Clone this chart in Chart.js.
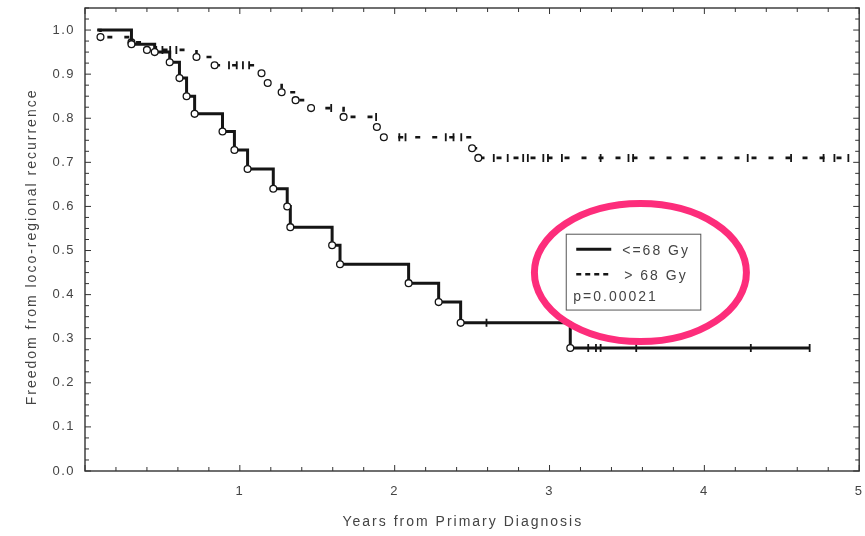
<!DOCTYPE html>
<html>
<head>
<meta charset="utf-8">
<title>Freedom from loco-regional recurrence</title>
<script src="https://cdn.jsdelivr.net/npm/chart.js@4.4.1/dist/chart.umd.min.js"></script>
<style>
  html, body { margin: 0; padding: 0; background: #fff; }
  #wrap { width: 865px; height: 536px; position: relative; }
</style>
</head>
<body>
<div id="wrap"><canvas id="km"></canvas></div>
<script>
// Kaplan–Meier curves: freedom from loco-regional recurrence by dose group

const groupLabels = ['<=68 Gy', '> 68 Gy'];
const pValueText = 'p=0.00021';
const xTitle = 'Years from Primary Diagnosis';
const yTitle = 'Freedom from loco-regional recurrence';
const xTickValues = [1, 2, 3, 4, 5];
const yTickValues = [0, 0.1, 0.2, 0.3, 0.4, 0.5, 0.6, 0.7, 0.8, 0.9, 1.0];

// <=68 Gy: first follow-up time, event times (years), survival after each event, censored times
const lowStart = 0.08;
const lowEventTimes = [0.30, 0.45, 0.547, 0.61, 0.656, 0.708, 0.888, 0.965, 1.05, 1.216, 1.306, 1.326, 1.596, 1.647, 2.09, 2.284, 2.426, 3.134];
const lowEventSurv  = [0.968, 0.950, 0.927, 0.891, 0.850, 0.810, 0.770, 0.728, 0.685, 0.640, 0.600, 0.553, 0.512, 0.469, 0.426, 0.383, 0.336, 0.279];
const lowCensorTimes = [2.593, 3.25, 3.30, 3.33, 3.56, 4.30, 4.68];

// > 68 Gy
const highStart = 0.08;
const highEventTimes = [0.10, 0.30, 0.40, 0.72, 0.837, 1.14, 1.18, 1.27, 1.36, 1.46, 1.67, 1.885, 1.93, 2.50, 2.54];
const highEventSurv  = [0.984, 0.972, 0.955, 0.939, 0.920, 0.902, 0.880, 0.859, 0.841, 0.823, 0.803, 0.780, 0.757, 0.732, 0.710];
const highCensorTimes = [0.46, 0.50, 0.55, 0.59, 0.93, 0.98, 1.02, 1.06, 1.59, 1.88, 2.03, 2.07, 2.33, 2.38, 2.43,
                         2.64, 2.73, 2.83, 2.86, 2.96, 2.99, 3.08, 3.33, 3.51, 3.54, 4.28, 4.56, 4.77, 4.84, 4.93];

// Merge events and censorings into one step curve; a censored point sits at the current survival level
function buildCurve(start, evT, evS, ceT) {
  const pts = [{ x: start, y: 1, kind: 'start' }];
  evT.forEach((t, i) => pts.push({ x: t, y: evS[i], kind: 'event' }));
  ceT.forEach(t => pts.push({ x: t, y: null, kind: 'censor' }));
  pts.sort((a, b) => (a.x - b.x) || (a.kind === 'event' ? -1 : 1));
  let s = 1;
  pts.forEach(p => { if (p.kind === 'censor') p.y = s; else s = p.y; });
  return pts;
}

const INK = '#151515';
const TEXT = '#444444';
const FONT = 'Liberation Sans, Arial, Helvetica, sans-serif';
const TICK_SPACING = '1.5px';
const TITLE_SPACING = '2px';

const markStyle = {
  pointStyle: c => c.raw.kind === 'event' ? 'circle' : (c.raw.kind === 'censor' ? 'line' : false),
  pointRotation: c => c.raw.kind === 'censor' ? 90 : 0,
  pointRadius: c => c.raw.kind === 'event' ? 3.4 : (c.raw.kind === 'censor' ? 4 : 0),
  pointBorderWidth: c => c.raw.kind === 'censor' ? 1.8 : 1.3,
  pointBackgroundColor: '#ffffff',
  pointBorderColor: INK,
  pointHoverRadius: 0
};

// Wide text tracking for the tick labels
const tracking = {
  id: 'tracking',
  beforeUpdate(chart) { chart.ctx.letterSpacing = TICK_SPACING; },
  beforeLayout(chart) { chart.ctx.letterSpacing = TICK_SPACING; },
  beforeDraw(chart) { chart.ctx.letterSpacing = TICK_SPACING; }
};

// Axis titles, placed against the plot frame
const axisTitles = {
  id: 'axisTitles',
  afterDraw(chart) {
    const { ctx, chartArea: a } = chart;
    ctx.save();
    ctx.letterSpacing = TITLE_SPACING;
    ctx.fillStyle = TEXT;
    ctx.font = '14px ' + FONT;
    ctx.textAlign = 'center';
    ctx.textBaseline = 'middle';
    ctx.fillText(xTitle, a.left + (a.right - a.left) * 0.488, a.bottom + 51);
    ctx.translate(a.left - 53, a.top + (a.bottom - a.top) * 0.516);
    ctx.rotate(-Math.PI / 2);
    ctx.fillText(yTitle, 0, 0);
    ctx.restore();
  }
};

// Plot frame with inward tick marks on all four sides
const frame = {
  id: 'frame',
  beforeDatasetsDraw(chart) {
    const { ctx, chartArea: a, scales: { x, y } } = chart;
    ctx.save();
    ctx.strokeStyle = '#333';
    ctx.lineWidth = 1.4;
    ctx.strokeRect(a.left, a.top, a.right - a.left, a.bottom - a.top);
    ctx.lineWidth = 1;
    ctx.beginPath();
    for (let i = 0; i <= 25; i++) {
      const px = x.getPixelForValue(i * 0.2);
      const len = (i % 5 === 0) ? 6 : 4;
      ctx.moveTo(px, a.bottom); ctx.lineTo(px, a.bottom - len);
      ctx.moveTo(px, a.top); ctx.lineTo(px, a.top + len);
    }
    for (let i = 0; i <= 42; i++) {
      const py = y.getPixelForValue(i * 0.025);
      const len = (i % 4 === 0) ? 6 : 4;
      ctx.moveTo(a.left, py); ctx.lineTo(a.left + len, py);
      ctx.moveTo(a.right, py); ctx.lineTo(a.right - len, py);
    }
    ctx.stroke();
    ctx.restore();
  }
};

// Boxed key with line samples, labels and the log-rank p value, circled in pink
const keyBox = {
  id: 'keyBox',
  afterDatasetsDraw(chart) {
    const { ctx, scales: { x, y } } = chart;
    const left = x.getPixelForValue(3.108), right = x.getPixelForValue(3.977);
    const top = y.getPixelForValue(0.537), bottom = y.getPixelForValue(0.365);
    ctx.save();
    ctx.fillStyle = '#fff';
    ctx.fillRect(left, top, right - left, bottom - top);
    ctx.strokeStyle = '#555';
    ctx.lineWidth = 1;
    ctx.strokeRect(left, top, right - left, bottom - top);

    ctx.strokeStyle = INK;
    ctx.lineWidth = 3;
    ctx.beginPath();
    ctx.moveTo(left + 10, top + 15); ctx.lineTo(left + 45, top + 15);
    ctx.stroke();
    ctx.setLineDash([5, 4]);
    ctx.lineWidth = 2.5;
    ctx.beginPath();
    ctx.moveTo(left + 10, top + 40); ctx.lineTo(left + 45, top + 40);
    ctx.stroke();
    ctx.setLineDash([]);

    ctx.letterSpacing = TITLE_SPACING;
    ctx.fillStyle = TEXT;
    ctx.font = '14px ' + FONT;
    ctx.textBaseline = 'middle';
    ctx.textAlign = 'left';
    ctx.fillText(groupLabels[0], left + 56, top + 17);
    ctx.fillText(groupLabels[1], left + 58, top + 42);
    ctx.fillText(pValueText, left + 7, top + 63);

    // pink ellipse around the key
    const cx = x.getPixelForValue(3.587), cy = y.getPixelForValue(0.450);
    ctx.strokeStyle = '#fd2d7b';
    ctx.lineWidth = 7;
    ctx.beginPath();
    ctx.ellipse(cx, cy, 106, 69, 0, 0, Math.PI * 2);
    ctx.stroke();
    ctx.restore();
  }
};

new Chart(document.getElementById('km'), {
  type: 'line',
  data: {
    datasets: [
      Object.assign({
        label: groupLabels[0],
        data: buildCurve(lowStart, lowEventTimes, lowEventSurv, lowCensorTimes),
        borderColor: INK,
        borderWidth: 3,
        stepped: 'before',
        fill: false
      }, markStyle),
      Object.assign({
        label: groupLabels[1],
        data: buildCurve(highStart, highEventTimes, highEventSurv, highCensorTimes),
        borderColor: INK,
        borderWidth: 2.6,
        borderDash: [5, 12],
        stepped: 'before',
        fill: false
      }, markStyle)
    ]
  },
  options: {
    responsive: true,
    maintainAspectRatio: false,
    animation: false,
    events: [],
    layout: { padding: { left: 18, right: 3, top: 8, bottom: 0 } },
    plugins: { legend: { display: false }, tooltip: { enabled: false } },
    scales: {
      x: {
        type: 'linear',
        min: 0,
        max: 5,
        grid: { display: false, drawTicks: false },
        border: { display: false },
        afterBuildTicks: s => { s.ticks = xTickValues.map(v => ({ value: v })); },
        afterFit: s => { s.height = 65; s.paddingLeft = 0; s.paddingRight = 0; },
        ticks: {
          autoSkip: false, maxRotation: 0, padding: 13,
          color: TEXT, font: { family: FONT, size: 13 },
          callback: v => String(v)
        },
        title: { display: false }
      },
      y: {
        type: 'linear',
        min: 0,
        max: 1.05,
        grid: { display: false, drawTicks: false },
        border: { display: false },
        afterBuildTicks: s => { s.ticks = yTickValues.map(v => ({ value: v })); },
        afterFit: s => { s.width = 67; s.paddingTop = 0; s.paddingBottom = 0; },
        ticks: {
          autoSkip: false, padding: 10,
          color: TEXT, font: { family: FONT, size: 13 },
          callback: v => Number(v).toFixed(1)
        },
        title: { display: false }
      }
    }
  },
  plugins: [tracking, frame, keyBox, axisTitles]
});
</script>
</body>
</html>
